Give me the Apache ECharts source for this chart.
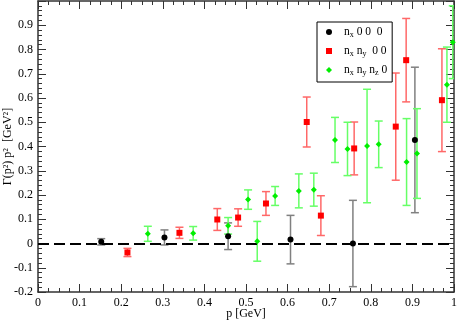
<!DOCTYPE html>
<html>
<head>
<meta charset="utf-8">
<script src="https://cdn.jsdelivr.net/npm/echarts@6/dist/echarts.min.js"></script>
<style>
  html, body { margin: 0; padding: 0; background: #fff; }
  #main { width: 457px; height: 320px; }
</style>
</head>
<body>
<div id="main"></div>
<script>
// n_x 0 0 0
var blackX = [0.152, 0.304, 0.457, 0.607, 0.757, 0.906];
var blackY = [0.007, 0.025, 0.030, 0.016, 0.000, 0.427];
var blackErr = [0.013, 0.031, 0.055, 0.100, 0.178, 0.300];

// n_x n_y 0 0
var redX = [0.215, 0.340, 0.431, 0.481, 0.548, 0.646, 0.680, 0.760, 0.860, 0.885, 0.971];
var redY = [-0.037, 0.044, 0.099, 0.107, 0.165, 0.501, 0.115, 0.392, 0.482, 0.756, 0.591];
var redErr = [0.017, 0.023, 0.045, 0.036, 0.049, 0.103, 0.082, 0.109, 0.221, 0.172, 0.212];

// n_x n_y n_z 0
var greenX = [0.264, 0.373, 0.457, 0.505, 0.527, 0.570, 0.627, 0.663, 0.714, 0.744, 0.791, 0.819, 0.886, 0.911, 0.983, 0.997];
var greenY = [0.040, 0.042, 0.073, 0.181, 0.009, 0.196, 0.217, 0.222, 0.427, 0.390, 0.402, 0.409, 0.336, 0.371, 0.655, 0.830];
var greenErr = [0.031, 0.028, 0.034, 0.040, 0.082, 0.039, 0.070, 0.068, 0.093, 0.110, 0.234, 0.096, 0.179, 0.185, 0.155, 0.150];

var seriesNames = ['nx 0 0 0', 'nx ny 0 0', 'nx ny nz 0'];
var legendText = {
  'nx 0 0 0': '{n|n}{s|x}{n| 0 0  0}',
  'nx ny 0 0': '{n|n}{s|x}{n| n}{s|y}{n|  0 0}',
  'nx ny nz 0': '{n|n}{s|x}{n| n}{s|y}{n| n}{s|z}{n| 0}'
};

var serif = '"Liberation Serif", "DejaVu Serif", serif';

function toPoints(xs, ys, es) {
  return xs.map(function (x, i) { return [x, ys[i], es[i]]; });
}

function errBars(color) {
  return function (params, api) {
    var x = api.value(0), y = api.value(1), e = api.value(2);
    var top = api.coord([x, y + e]);
    var bot = api.coord([x, y - e]);
    var hw = 4;
    var st = { stroke: color, lineWidth: 1.5 };
    return {
      type: 'group',
      children: [
        { type: 'line', shape: { x1: top[0], y1: top[1], x2: bot[0], y2: bot[1] }, style: st },
        { type: 'line', shape: { x1: top[0] - hw, y1: top[1], x2: top[0] + hw, y2: top[1] }, style: st },
        { type: 'line', shape: { x1: bot[0] - hw, y1: bot[1], x2: bot[0] + hw, y2: bot[1] }, style: st }
      ]
    };
  };
}

var axisLine = { show: true, onZero: false, lineStyle: { color: '#333', width: 1.5 } };
var tick = { inside: true, length: 8, lineStyle: { color: '#333' } };

var chart = echarts.init(document.getElementById('main'));
chart.setOption({
  backgroundColor: '#fff',
  animation: false,
  grid: { left: 38, right: 3, top: 1, bottom: 28, outerBoundsMode: 'none', containLabel: false },
  legend: {
    data: seriesNames,
    orient: 'vertical',
    left: 317,
    top: 22,
    backgroundColor: '#fff',
    borderColor: '#000',
    borderWidth: 1,
    borderRadius: 0,
    padding: [4, 5, 5, 9],
    itemGap: 6,
    itemWidth: 6,
    itemHeight: 6,
    formatter: function (name) { return legendText[name]; },
    textStyle: {
      padding: [0, 0, 0, 7],
      rich: {
        n: { fontFamily: serif, fontSize: 11.5, color: '#000', lineHeight: 14 },
        s: { fontFamily: serif, fontSize: 8, color: '#000', lineHeight: 9, verticalAlign: 'bottom' }
      }
    }
  },
  xAxis: [
    {
      type: 'value', min: 0, max: 1, interval: 0.1,
      name: 'p [GeV]', nameLocation: 'middle', nameGap: 16, nameMoveOverlap: false,
      nameTextStyle: { fontFamily: serif, fontSize: 12, color: '#000' },
      axisLine: axisLine,
      axisTick: tick,
      minorTick: { show: true, splitNumber: 4, length: 4, lineStyle: { color: '#333' } },
      axisLabel: { fontFamily: serif, fontSize: 12, color: '#000', margin: 5 },
      splitLine: { show: false }
    },
    {
      type: 'value', min: 0, max: 1, interval: 0.1, position: 'top',
      axisLine: axisLine,
      axisTick: tick,
      minorTick: { show: true, splitNumber: 4, length: 4, lineStyle: { color: '#333' } },
      axisLabel: { show: false },
      splitLine: { show: false }
    }
  ],
  yAxis: [
    {
      type: 'value', min: -0.2, max: 1, interval: 0.1,
      name: 'Γ(p²) p²  [GeV²]', nameLocation: 'middle', nameGap: 24, nameMoveOverlap: false,
      nameTextStyle: { fontFamily: serif, fontSize: 12, color: '#000' },
      axisLine: axisLine,
      axisTick: tick,
      minorTick: { show: true, splitNumber: 5, length: 4, lineStyle: { color: '#333' } },
      axisLabel: {
        fontFamily: serif, fontSize: 12, color: '#000', margin: 5,
        formatter: function (v) { return v >= 0.999 ? '' : String(Math.round(v * 10) / 10); }
      },
      splitLine: { show: false }
    },
    {
      type: 'value', min: -0.2, max: 1, interval: 0.1, position: 'right',
      axisLine: axisLine,
      axisTick: tick,
      minorTick: { show: true, splitNumber: 5, length: 4, lineStyle: { color: '#333' } },
      axisLabel: { show: false },
      splitLine: { show: false }
    }
  ],
  series: [
    {
      name: 'zero', type: 'line', data: [], silent: true,
      markLine: {
        silent: true, symbol: 'none', label: { show: false },
        lineStyle: { color: '#000', width: 2, type: [11, 5] },
        data: [{ yAxis: 0 }]
      }
    },
    { name: 'err0', type: 'custom', clip: true, renderItem: errBars('#808080'), data: toPoints(blackX, blackY, blackErr), z: 2 },
    { name: 'err1', type: 'custom', clip: true, renderItem: errBars('#ff6868'), data: toPoints(redX, redY, redErr), z: 2 },
    { name: 'err2', type: 'custom', clip: true, renderItem: errBars('#66ff66'), data: toPoints(greenX, greenY, greenErr), z: 2 },
    {
      name: seriesNames[0], type: 'scatter', symbol: 'circle', symbolSize: 6, z: 5,
      itemStyle: { color: '#000', opacity: 1 },
      data: toPoints(blackX, blackY, blackErr)
    },
    {
      name: seriesNames[1], type: 'scatter', symbol: 'rect', symbolSize: 6, z: 5,
      itemStyle: { color: '#ff0000', opacity: 1 },
      data: toPoints(redX, redY, redErr)
    },
    {
      name: seriesNames[2], type: 'scatter', symbol: 'diamond', symbolSize: 6, z: 5,
      itemStyle: { color: '#00ee00', opacity: 1 },
      data: toPoints(greenX, greenY, greenErr)
    }
  ]
});
</script>
</body>
</html>
